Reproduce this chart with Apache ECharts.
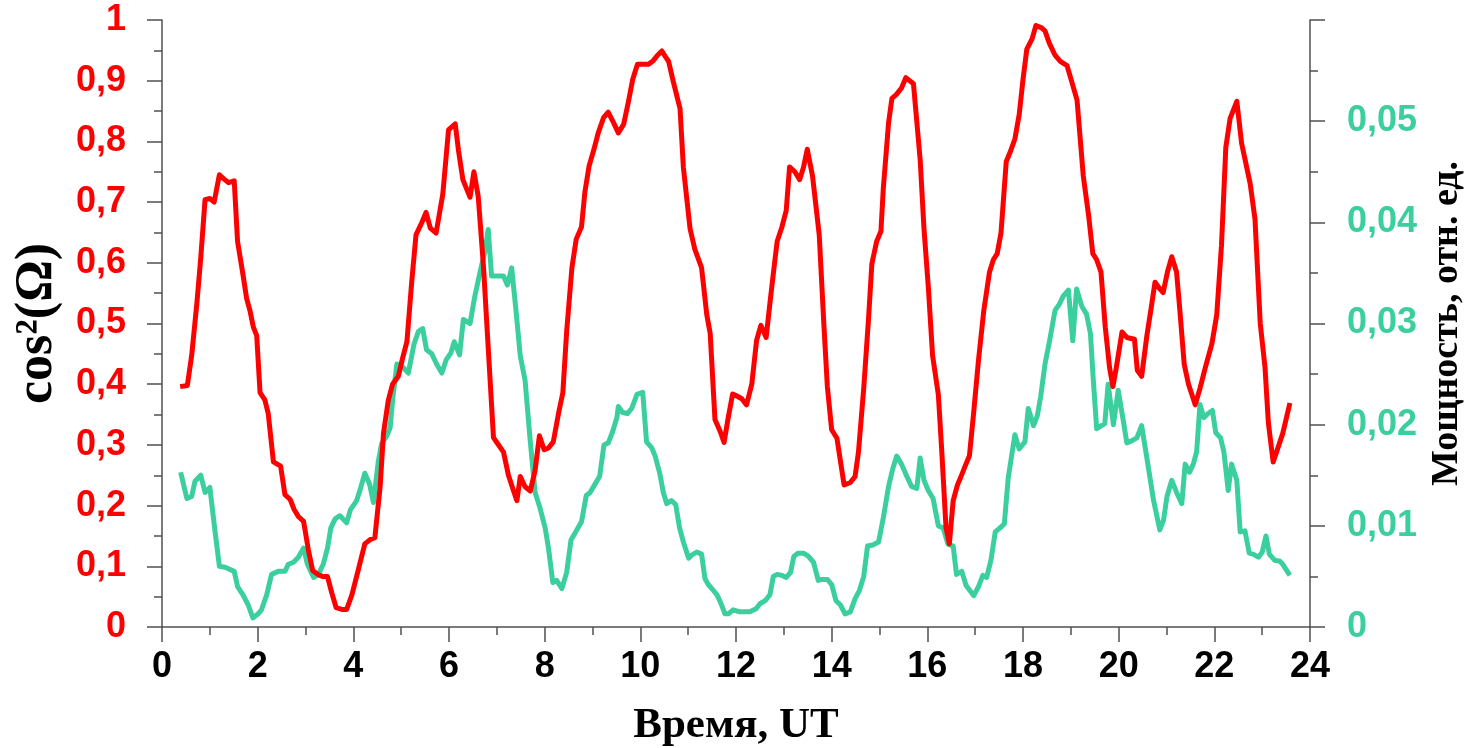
<!DOCTYPE html>
<html>
<head>
<meta charset="utf-8">
<script src="https://cdn.jsdelivr.net/npm/echarts@6/dist/echarts.min.js"></script>
<style>
html,body{margin:0;padding:0;background:#fff;overflow:hidden;}
#chart{width:1470px;height:748px;}
</style>
</head>
<body>
<div id="chart"></div>
<script>
// Time axis ticks
const xTicks = [0, 2, 4, 6, 8, 10, 12, 14, 16, 18, 20, 22, 24];

// cos^2(Omega) series (red, left axis)
const redTime = [0.38,0.53,0.62,0.73,0.81,0.90,1.00,1.09,1.20,1.28,1.39,1.51,1.58,1.69,1.77,1.84,1.91,1.98,2.05,2.15,2.22,2.33,2.48,2.57,2.68,2.76,2.85,2.96,3.06,3.15,3.27,3.37,3.46,3.55,3.64,3.76,3.86,3.97,4.11,4.24,4.35,4.45,4.56,4.63,4.73,4.82,4.94,5.03,5.12,5.22,5.31,5.43,5.52,5.61,5.73,5.87,5.99,6.13,6.20,6.29,6.44,6.52,6.61,6.72,6.82,6.93,7.00,7.14,7.24,7.35,7.42,7.49,7.59,7.70,7.80,7.89,7.99,8.08,8.18,8.29,8.38,8.46,8.57,8.66,8.77,8.84,8.93,9.03,9.12,9.23,9.33,9.44,9.54,9.65,9.75,9.84,9.94,10.06,10.17,10.27,10.36,10.45,10.52,10.59,10.69,10.83,10.90,11.04,11.14,11.28,11.39,11.46,11.56,11.67,11.75,11.84,11.93,12.01,12.12,12.22,12.33,12.43,12.52,12.63,12.71,12.78,12.86,12.96,13.05,13.12,13.23,13.33,13.41,13.49,13.60,13.74,13.84,13.91,14.00,14.11,14.18,14.26,14.39,14.49,14.56,14.67,14.77,14.84,14.94,15.03,15.08,15.19,15.26,15.35,15.46,15.55,15.71,15.85,15.93,16.02,16.11,16.23,16.30,16.39,16.46,16.54,16.63,16.72,16.79,16.88,16.96,17.07,17.18,17.30,17.38,17.46,17.54,17.65,17.73,17.83,17.92,18.00,18.08,18.19,18.27,18.39,18.46,18.55,18.67,18.78,18.92,19.02,19.13,19.26,19.37,19.46,19.54,19.63,19.72,19.81,19.88,19.95,20.07,20.17,20.33,20.39,20.48,20.59,20.69,20.76,20.85,20.93,21.02,21.11,21.21,21.28,21.37,21.46,21.53,21.60,21.70,21.81,21.95,22.05,22.15,22.24,22.33,22.47,22.57,22.75,22.85,22.96,23.06,23.13,23.23,23.30,23.43,23.50,23.58];
const redValue = [0.396,0.398,0.447,0.534,0.608,0.704,0.706,0.700,0.745,0.739,0.732,0.735,0.635,0.582,0.541,0.521,0.494,0.480,0.386,0.374,0.352,0.272,0.265,0.218,0.210,0.194,0.182,0.174,0.127,0.093,0.086,0.083,0.083,0.056,0.032,0.029,0.029,0.053,0.096,0.137,0.144,0.147,0.231,0.319,0.373,0.400,0.413,0.443,0.470,0.568,0.646,0.666,0.683,0.657,0.649,0.713,0.819,0.829,0.784,0.737,0.708,0.750,0.710,0.595,0.460,0.312,0.304,0.288,0.251,0.224,0.208,0.248,0.231,0.224,0.258,0.315,0.292,0.295,0.305,0.352,0.386,0.487,0.592,0.639,0.659,0.716,0.760,0.787,0.814,0.839,0.848,0.831,0.814,0.828,0.865,0.902,0.927,0.927,0.927,0.933,0.942,0.949,0.940,0.932,0.898,0.854,0.757,0.656,0.622,0.592,0.514,0.484,0.342,0.322,0.304,0.346,0.384,0.381,0.376,0.366,0.400,0.472,0.497,0.477,0.534,0.582,0.635,0.659,0.686,0.758,0.750,0.737,0.757,0.787,0.743,0.646,0.494,0.396,0.325,0.311,0.275,0.234,0.238,0.248,0.288,0.393,0.507,0.598,0.635,0.652,0.723,0.831,0.871,0.877,0.888,0.905,0.895,0.770,0.656,0.561,0.447,0.383,0.292,0.164,0.137,0.208,0.234,0.251,0.265,0.282,0.346,0.440,0.521,0.585,0.605,0.615,0.649,0.767,0.782,0.804,0.844,0.902,0.952,0.969,0.991,0.987,0.982,0.962,0.942,0.932,0.925,0.898,0.868,0.743,0.679,0.615,0.605,0.585,0.494,0.427,0.396,0.427,0.486,0.477,0.474,0.423,0.413,0.480,0.531,0.568,0.558,0.551,0.585,0.610,0.585,0.521,0.433,0.400,0.383,0.366,0.393,0.427,0.467,0.514,0.629,0.790,0.838,0.866,0.797,0.730,0.672,0.500,0.427,0.336,0.272,0.288,0.319,0.342,0.369];

// Power series (green, right axis)
const greenTime = [0.39,0.52,0.62,0.69,0.81,0.90,1.00,1.11,1.20,1.32,1.51,1.58,1.69,1.80,1.90,2.01,2.08,2.19,2.29,2.43,2.57,2.64,2.75,2.85,2.96,3.04,3.17,3.27,3.37,3.46,3.53,3.62,3.72,3.86,3.94,4.07,4.15,4.24,4.34,4.42,4.52,4.59,4.70,4.77,4.82,4.91,5.01,5.15,5.27,5.36,5.45,5.53,5.64,5.74,5.85,5.94,6.04,6.11,6.22,6.30,6.44,6.54,6.66,6.75,6.82,6.89,7.00,7.14,7.22,7.31,7.40,7.49,7.59,7.70,7.80,7.90,8.01,8.08,8.17,8.25,8.36,8.46,8.55,8.66,8.77,8.87,8.95,9.05,9.15,9.24,9.33,9.42,9.51,9.54,9.63,9.73,9.82,9.93,10.05,10.13,10.24,10.31,10.41,10.48,10.55,10.65,10.74,10.82,10.90,11.01,11.07,11.18,11.28,11.35,11.42,11.53,11.60,11.67,11.77,11.84,11.94,12.08,12.19,12.29,12.42,12.50,12.61,12.71,12.78,12.86,12.96,13.05,13.14,13.21,13.30,13.41,13.51,13.62,13.72,13.79,13.91,14.00,14.09,14.18,14.28,14.39,14.49,14.58,14.67,14.75,14.86,14.98,15.08,15.19,15.28,15.36,15.46,15.57,15.67,15.78,15.85,15.93,16.02,16.12,16.23,16.33,16.43,16.54,16.61,16.72,16.81,16.89,16.97,17.07,17.16,17.24,17.33,17.42,17.52,17.61,17.69,17.83,17.92,18.04,18.11,18.22,18.30,18.37,18.46,18.56,18.67,18.76,18.84,18.95,19.04,19.12,19.23,19.33,19.41,19.47,19.54,19.64,19.71,19.78,19.89,19.99,20.10,20.17,20.27,20.38,20.48,20.59,20.73,20.86,20.94,21.01,21.11,21.21,21.32,21.39,21.48,21.56,21.63,21.70,21.78,21.87,21.96,22.03,22.13,22.20,22.29,22.36,22.47,22.54,22.64,22.73,22.81,22.92,23.00,23.08,23.15,23.26,23.37,23.43,23.58];
const greenValue = [0.0153,0.0127,0.0129,0.0144,0.0150,0.0133,0.0138,0.0094,0.0060,0.0059,0.0055,0.0040,0.0032,0.0022,0.0009,0.0013,0.0017,0.0032,0.0052,0.0055,0.0055,0.0062,0.0064,0.0069,0.0078,0.0062,0.0049,0.0052,0.0062,0.0078,0.0098,0.0107,0.0110,0.0103,0.0116,0.0125,0.0137,0.0152,0.0141,0.0123,0.0163,0.0181,0.0189,0.0197,0.0224,0.0260,0.0258,0.0251,0.0280,0.0292,0.0295,0.0274,0.0270,0.0260,0.0251,0.0264,0.0271,0.0282,0.0269,0.0304,0.0300,0.0327,0.0353,0.0371,0.0393,0.0347,0.0347,0.0347,0.0338,0.0355,0.0313,0.0268,0.0244,0.0183,0.0133,0.0118,0.0098,0.0078,0.0044,0.0046,0.0038,0.0054,0.0086,0.0095,0.0104,0.0130,0.0133,0.0141,0.0149,0.0180,0.0182,0.0193,0.0207,0.0218,0.0212,0.0211,0.0216,0.0230,0.0232,0.0183,0.0177,0.0169,0.0151,0.0133,0.0122,0.0125,0.0121,0.0098,0.0084,0.0068,0.0071,0.0074,0.0072,0.0048,0.0042,0.0036,0.0032,0.0025,0.0013,0.0013,0.0017,0.0015,0.0015,0.0015,0.0018,0.0023,0.0026,0.0032,0.0050,0.0052,0.0051,0.0049,0.0054,0.0070,0.0073,0.0073,0.0070,0.0064,0.0046,0.0047,0.0047,0.0042,0.0026,0.0022,0.0013,0.0015,0.0028,0.0036,0.0050,0.0080,0.0081,0.0084,0.0108,0.0139,0.0157,0.0169,0.0161,0.0149,0.0139,0.0137,0.0167,0.0145,0.0135,0.0127,0.0100,0.0098,0.0082,0.0080,0.0052,0.0055,0.0041,0.0036,0.0031,0.0040,0.0051,0.0049,0.0066,0.0094,0.0098,0.0102,0.0147,0.0190,0.0176,0.0183,0.0216,0.0199,0.0209,0.0228,0.0260,0.0284,0.0313,0.0319,0.0327,0.0333,0.0283,0.0334,0.0317,0.0309,0.0290,0.0244,0.0196,0.0199,0.0201,0.0240,0.0200,0.0234,0.0203,0.0182,0.0184,0.0187,0.0199,0.0167,0.0125,0.0096,0.0106,0.0129,0.0145,0.0133,0.0122,0.0161,0.0153,0.0161,0.0173,0.0220,0.0207,0.0211,0.0214,0.0192,0.0187,0.0173,0.0135,0.0161,0.0145,0.0094,0.0095,0.0073,0.0072,0.0069,0.0074,0.0090,0.0072,0.0066,0.0065,0.0062,0.0051];

const RED = '#ff0000';
const GREEN = '#3acf9c';
const AXIS = '#505050';

function commaFmt(v) {
  return String(+v.toFixed(3)).replace('.', ',');
}

const chart = echarts.init(document.getElementById('chart'), null, {renderer: 'canvas'});
const labelFont = {fontFamily: '"Liberation Sans", Arial, sans-serif', fontWeight: 'bold', fontSize: 36};
const axisLineStyle = {color: AXIS, width: 1.5};

chart.setOption({
  animation: false,
  backgroundColor: '#ffffff',
  grid: {left: 162, right: 160, top: 20, bottom: 121, containLabel: false, outerBoundsMode: 'none'},
  xAxis: {
    type: 'value', min: xTicks[0], max: xTicks[xTicks.length - 1], interval: 2,
    name: 'Время, UT', nameLocation: 'middle', nameGap: 77,
    nameTextStyle: {fontFamily: '"Liberation Serif", "Times New Roman", serif', fontWeight: 'bold', fontSize: 43, color: '#000'},
    axisLine: {show: true, onZero: false, lineStyle: axisLineStyle},
    axisTick: {show: true, length: 15, lineStyle: axisLineStyle},
    minorTick: {show: true, splitNumber: 2, length: 8, lineStyle: axisLineStyle},
    splitLine: {show: false},
    axisLabel: Object.assign({color: '#000', margin: 22, formatter: v => commaFmt(v)}, labelFont)
  },
  yAxis: [{
    type: 'value', min: 0, max: 1, interval: 0.1, position: 'left',
    name: 'cos²(Ω)', nameLocation: 'middle', nameGap: 98, nameRotate: 90,
    nameTextStyle: {fontFamily: '"Liberation Serif", "Times New Roman", serif', fontWeight: 'bold', fontSize: 52, color: '#000'},
    axisLine: {show: true, lineStyle: axisLineStyle},
    axisTick: {show: true, length: 15, lineStyle: axisLineStyle},
    minorTick: {show: true, splitNumber: 2, length: 8, lineStyle: axisLineStyle},
    splitLine: {show: false},
    axisLabel: Object.assign({color: RED, margin: 36, formatter: v => commaFmt(v)}, labelFont)
  }, {
    type: 'value', min: 0, max: 0.06, interval: 0.01, position: 'right',
    name: 'Мощность, отн. ед.', nameLocation: 'middle', nameGap: 118, nameRotate: 90,
    nameTextStyle: {fontFamily: '"Liberation Serif", "Times New Roman", serif', fontWeight: 'bold', fontSize: 38, color: '#000'},
    axisLine: {show: true, lineStyle: axisLineStyle},
    axisTick: {show: true, length: 15, lineStyle: axisLineStyle},
    minorTick: {show: true, splitNumber: 2, length: 8, lineStyle: axisLineStyle},
    splitLine: {show: false},
    axisLabel: Object.assign({color: GREEN, margin: 37, formatter: v => (v > 0.055 ? '' : commaFmt(v))}, labelFont)
  }],
  series: [{
    name: 'power', type: 'line', yAxisIndex: 1, symbol: 'none', smooth: false,
    lineStyle: {color: GREEN, width: 5, join: 'round'},
    data: greenTime.map((t, i) => [t, greenValue[i]])
  }, {
    name: 'cos2', type: 'line', yAxisIndex: 0, symbol: 'none', smooth: false,
    lineStyle: {color: RED, width: 5, join: 'round'},
    data: redTime.map((t, i) => [t, redValue[i]])
  }]
});
</script>
</body>
</html>
